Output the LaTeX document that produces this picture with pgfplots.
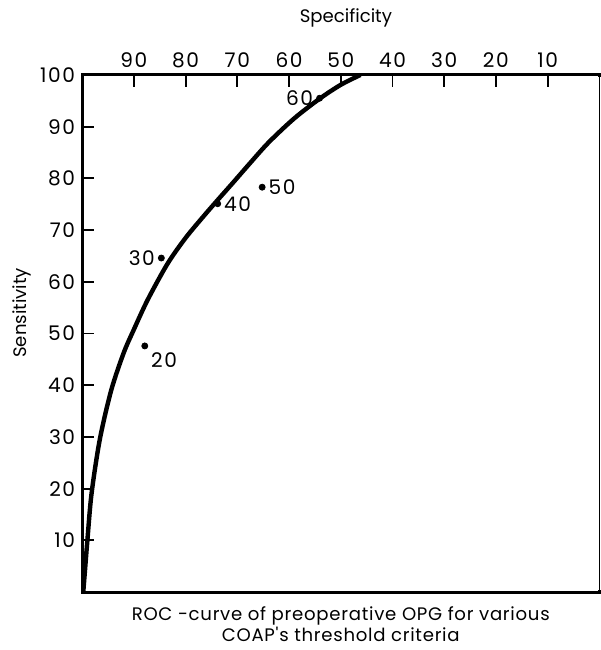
\documentclass[border=0pt]{standalone}
\usepackage{fontspec}
\setmainfont{Poppins}
\newfontfamily\tickfont[LetterSpace=8]{Poppins}
\newfontfamily\labfont[LetterSpace=4]{Poppins}
\usepackage{pgfplots}
\usepackage{pgfplotstable}
\pgfplotsset{compat=1.18}

% ROC curve (specificity, sensitivity)
\pgfplotstableread{
spec sens
99.8 0
99.4 5
99.0 10
98.2 19
96.6 29.5
94.4 39
92.0 46.2
90.0 50.8
87.3 56.6
83.5 63.5
80.0 68.5
76.6 72.6
74.0 75.6
70.9 79.1
67.5 83.0
63.9 87.0
59.0 91.6
54.1 95.4
50.0 98.1
46.2 100
}\roccurve

% threshold points, grouped by where their label sits
\pgfplotstableread{
spec sens lab
84.7 64.6 30
54.1 95.5 60
}\leftlab
\pgfplotstableread{
spec sens lab
73.8 75.1 40
65.2 78.3 50
}\rightlab
\pgfplotstableread{
spec sens lab
87.9 47.6 20
}\belowlab

\begin{document}
\begin{tikzpicture}
\begin{axis}[
  width=257pt, height=257pt, scale only axis,
  x dir=reverse,
  xmin=0, xmax=100, ymin=0, ymax=100,
  xtick={10,20,...,90},
  ytick={10,20,...,100},
  xtick pos=right, xticklabel pos=right,
  ytick pos=left,
  tick align=inside,
  major tick length=6pt,
  every tick/.style={black, line width=0.9pt},
  axis line style={line width=1.5pt},
  xlabel={Specificity},
  ylabel={Sensitivity},
  xlabel style={at={(axis description cs:0.51,1.11)}, anchor=center},
  ylabel style={at={(axis description cs:-0.117,0.54)}, anchor=center},
  tick label style={font=\tickfont\fontsize{10}{12}\selectfont},
  label style={font=\fontsize{9}{11}\selectfont},
  /pgf/number format/assume math mode=true,
  clip=false,
  pts/.style={only marks, mark=*, mark size=1.5pt, black,
    nodes near coords, point meta=explicit symbolic,
    every node near coord/.append style={font=\tickfont\fontsize{10}{12}\selectfont, inner sep=3pt, #1}},
]
% right side of the frame is thin
\draw[white, line width=2pt] (rel axis cs:1,0.004) -- (rel axis cs:1,0.996);
\draw[black, line width=0.7pt] (rel axis cs:1,0) -- (rel axis cs:1,1);

\addplot[black, line width=2.2pt, smooth] table[x=spec, y=sens] {\roccurve};

\addplot[pts={anchor=east}] table[x=spec, y=sens, meta=lab] {\leftlab};
\addplot[pts={anchor=west}] table[x=spec, y=sens, meta=lab] {\rightlab};
\addplot[pts={anchor=north west}] table[x=spec, y=sens, meta=lab] {\belowlab};

\node[align=center, anchor=north, inner sep=0pt, font=\labfont\fontsize{9}{10.5}\selectfont]
  at (rel axis cs:0.5,-0.028) {ROC -curve of preoperative OPG for various\\COAP's threshold criteria};

\coordinate (bbsw) at (rel axis cs:-0.159,-0.112);
\coordinate (bbne) at (rel axis cs:1.002,1.145);
\end{axis}
\pgfresetboundingbox
\path[use as bounding box] (bbsw) rectangle (bbne);
\end{tikzpicture}
\end{document}
